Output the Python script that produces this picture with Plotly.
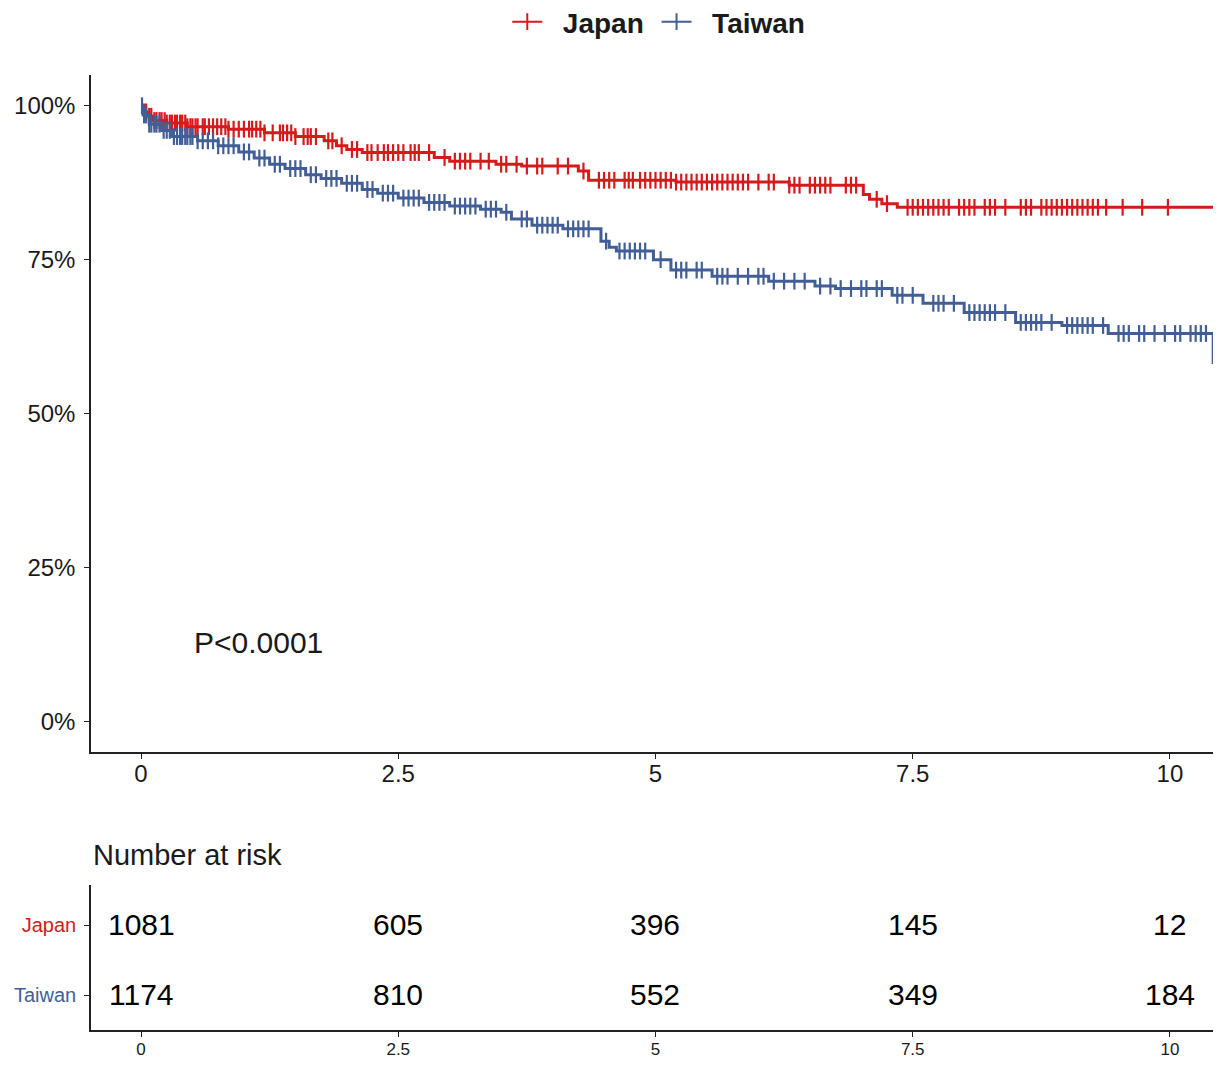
import bisect
import plotly.graph_objects as go

# ---------------- data ----------------
groups = ["Japan", "Taiwan"]

japan_times = [0, 0.02, 0.06, 0.12, 0.25, 0.45, 0.85, 1.2, 1.5, 1.78, 1.9, 2.0, 2.15,
               2.85, 3.0, 3.45, 3.7, 4.25, 4.35, 5.2, 6.3, 7.02, 7.08, 7.2, 7.35]
japan_surv = [100, 99.0, 98.3, 97.6, 97.2, 96.6, 96.2, 95.6, 95.0, 94.3, 93.5, 92.9, 92.4,
              91.6, 91.0, 90.5, 90.2, 89.4, 87.9, 87.6, 87.1, 85.6, 84.8, 84.1, 83.5]
japan_end = 10.5

taiwan_times = [0, 0.02, 0.08, 0.2, 0.3, 0.55, 0.75, 0.95, 1.1, 1.25, 1.4, 1.6, 1.75, 1.95,
                2.15, 2.3, 2.5, 2.75, 3.0, 3.3, 3.5, 3.6, 3.8, 4.1, 4.47, 4.55, 4.62, 4.98,
                5.15, 5.55, 6.1, 6.55, 6.75, 7.3, 7.6, 8.0, 8.5, 8.95, 9.4, 10.42]
taiwan_surv = [100, 98.5, 97.0, 96.0, 95.0, 94.3, 93.5, 92.5, 91.5, 90.5, 89.8, 88.8, 88.2, 87.4,
               86.4, 85.8, 85.0, 84.3, 83.7, 83.2, 82.7, 81.6, 80.6, 80.0, 78.0, 77.0, 76.4, 75.0,
               73.3, 72.3, 71.5, 70.7, 70.3, 69.2, 67.9, 66.4, 64.8, 64.3, 63.0, 58.3]
taiwan_end = 10.48

japan_censor = [0.03, 0.05, 0.08, 0.1, 0.13, 0.15, 0.18, 0.2, 0.23, 0.25, 0.28, 0.3, 0.33,
                0.35, 0.38, 0.4, 0.43, 0.45, 0.48, 0.5, 0.53, 0.55, 0.6, 0.62, 0.66, 0.7,
                0.74, 0.78, 0.82, 0.85, 0.9, 0.95, 1.0, 1.05, 1.08, 1.12, 1.16, 1.2, 1.28,
                1.35, 1.38, 1.42, 1.46, 1.5, 1.58, 1.62, 1.65, 1.7, 1.82, 1.86, 1.95, 2.05,
                2.1, 2.2, 2.24, 2.3, 2.36, 2.4, 2.45, 2.5, 2.55, 2.62, 2.66, 2.7, 2.8, 2.95,
                3.05, 3.1, 3.15, 3.2, 3.3, 3.38, 3.5, 3.55, 3.65, 3.75, 3.85, 3.9, 4.05, 4.15,
                4.3, 4.45, 4.5, 4.55, 4.6, 4.7, 4.74, 4.78, 4.85, 4.9, 4.95, 5.0, 5.05, 5.1,
                5.15, 5.2, 5.25, 5.3, 5.35, 5.4, 5.45, 5.5, 5.55, 5.6, 5.65, 5.7, 5.75, 5.8,
                5.85, 5.9, 6.0, 6.1, 6.15, 6.3, 6.35, 6.4, 6.5, 6.55, 6.6, 6.65, 6.7, 6.85,
                6.9, 6.95, 7.15, 7.25, 7.45, 7.5, 7.55, 7.6, 7.65, 7.7, 7.75, 7.8, 7.85,
                7.95, 8.0, 8.05, 8.1, 8.2, 8.25, 8.3, 8.4, 8.55, 8.6, 8.65, 8.75, 8.8, 8.85,
                8.9, 8.95, 9.0, 9.05, 9.1, 9.15, 9.2, 9.25, 9.3, 9.38, 9.54, 9.73, 9.98]

taiwan_censor = [0.01, 0.03, 0.05, 0.08, 0.1, 0.13, 0.15, 0.18, 0.22, 0.25, 0.28, 0.32, 0.35,
                 0.38, 0.4, 0.43, 0.45, 0.48, 0.5, 0.55, 0.6, 0.65, 0.7, 0.75, 0.8, 0.85, 0.9,
                 1.0, 1.05, 1.15, 1.2, 1.3, 1.35, 1.45, 1.5, 1.55, 1.65, 1.7, 1.8, 1.85, 1.9,
                 2.0, 2.05, 2.1, 2.2, 2.25, 2.35, 2.4, 2.45, 2.55, 2.6, 2.65, 2.7, 2.8, 2.85,
                 2.9, 2.95, 3.05, 3.1, 3.15, 3.2, 3.25, 3.35, 3.4, 3.45, 3.55, 3.7, 3.75, 3.85,
                 3.9, 3.95, 4.0, 4.05, 4.15, 4.2, 4.25, 4.3, 4.35, 4.52, 4.65, 4.7, 4.75, 4.8,
                 4.85, 4.9, 5.05, 5.2, 5.25, 5.3, 5.4, 5.45, 5.6, 5.65, 5.7, 5.8, 5.9, 6.0,
                 6.05, 6.15, 6.25, 6.35, 6.45, 6.6, 6.7, 6.8, 6.9, 7.0, 7.05, 7.15, 7.2, 7.35,
                 7.4, 7.5, 7.7, 7.75, 7.8, 7.9, 8.05, 8.1, 8.15, 8.2, 8.25, 8.3, 8.4, 8.55,
                 8.6, 8.65, 8.7, 8.75, 8.85, 9.0, 9.05, 9.1, 9.15, 9.2, 9.25, 9.35, 9.5, 9.55,
                 9.6, 9.7, 9.75, 9.85, 9.95, 10.05, 10.1, 10.2, 10.25, 10.3, 10.35, 10.46]

risk_times = [0, 2.5, 5, 7.5, 10]
risk_japan = [1081, 605, 396, 145, 12]
risk_taiwan = [1174, 810, 552, 349, 184]

x_ticks = [0, 2.5, 5, 7.5, 10]
x_ticktext = ["0", "2.5", "5", "7.5", "10"]
y_ticks = [0, 25, 50, 75, 100]
y_ticktext = ["0%", "25%", "50%", "75%", "100%"]
p_text = "P<0.0001"

# ---------------- style ----------------
RED = "#D7191C"
BLUE = "#425E96"
AXIS = "#222222"
FONT = "Liberation Sans, Arial, sans-serif"
NB = "\u00a0"


def surv_at(t, times, surv):
    i = bisect.bisect_right(times, t) - 1
    return surv[max(i, 0)]


fig = go.Figure()

curves = [
    ("Japan", japan_times, japan_surv, japan_end, japan_censor, RED),
    ("Taiwan", taiwan_times, taiwan_surv, taiwan_end, taiwan_censor, BLUE),
]

for name, times, surv, t_end, censor, col in curves:
    xs = list(times) + [t_end]
    ys = list(surv) + [surv[-1]]
    fig.add_trace(go.Scatter(x=xs, y=ys, mode="lines", line=dict(color=col, width=3, shape="hv"),
                             showlegend=False, xaxis="x", yaxis="y", hoverinfo="skip"))
    cy = [surv_at(t, times, surv) for t in censor]
    fig.add_trace(go.Scatter(x=censor, y=cy, mode="markers",
                             marker=dict(symbol="line-ns-open", size=12, color=col,
                                         line=dict(color=col, width=2.2)),
                             showlegend=False, xaxis="x", yaxis="y", hoverinfo="skip"))
    # legend entry
    fig.add_trace(go.Scatter(x=[None], y=[None], mode="lines+markers",
                             name=f"{NB}{NB}<b>{name}</b>{NB}",
                             line=dict(color=col, width=2),
                             marker=dict(symbol="line-ns-open", size=12, color=col,
                                         line=dict(color=col, width=2)),
                             xaxis="x", yaxis="y"))

# risk table (numbers placed on the table's own axes)
risk_annotations = []
for row_y, values in ((1, risk_japan), (0, risk_taiwan)):
    for t, v in zip(risk_times, values):
        risk_annotations.append(dict(text=str(v), x=t, y=row_y, xref="x2", yref="y2",
                                     xanchor="center", yanchor="middle", yshift=1,
                                     showarrow=False,
                                     font=dict(size=30, color="black", family=FONT)))

xr = [-0.486, 10.496]
common_axis = dict(showline=True, linecolor=AXIS, linewidth=1.5, ticks="outside", ticklen=5,
                   tickwidth=1.3, tickcolor=AXIS, showgrid=False, zeroline=False,
                   mirror=False)

# the page body adds an 8px margin; margins compensate for it
fig.update_layout(
    width=1221, height=1054,
    margin=dict(l=83, r=8, t=67, b=32, autoexpand=False),
    paper_bgcolor="white", plot_bgcolor="white",
    font=dict(family=FONT, color="#1a1a1a"),
    xaxis=dict(domain=[0, 1], range=xr, anchor="y", tickvals=x_ticks, ticktext=x_ticktext,
               tickfont=dict(size=24, color="#1a1a1a"), ticklabelstandoff=-6, **common_axis),
    yaxis=dict(domain=[0.2911, 1], range=[-5, 105], anchor="x", tickvals=y_ticks,
               ticktext=y_ticktext, tickfont=dict(size=24, color="#1a1a1a"),
               ticklabelstandoff=4, **common_axis),
    xaxis2=dict(domain=[0, 1], range=xr, anchor="y2", tickvals=x_ticks, ticktext=x_ticktext,
                tickfont=dict(size=17, color="#1a1a1a"), ticklabelstandoff=-2, **common_axis),
    yaxis2=dict(domain=[0, 0.1518], range=[-0.5, 1.571], anchor="x2", tickvals=[0, 1],
                ticktext=[f'<span style="color:{BLUE}">Taiwan</span>',
                          f'<span style="color:{RED}">Japan</span>'],
                tickfont=dict(size=20), ticklabelstandoff=4, **common_axis),
    legend=dict(orientation="h", x=0.506, xanchor="center", y=1.0555, yanchor="middle",
                font=dict(size=28, color="#1a1a1a", family=FONT), bgcolor="rgba(0,0,0,0)",
                itemwidth=30, tracegroupgap=0),
    annotations=[
        dict(text=p_text, x=0.5, y=12.8, xref="x", yref="y", xanchor="left", yanchor="middle",
             showarrow=False, font=dict(size=30, color="#1a1a1a", family=FONT)),
        dict(text="Number at risk", x=0, y=0.1832, xref="paper", yref="paper",
             xanchor="left", yanchor="middle", showarrow=False,
             font=dict(size=29, color="#1a1a1a", family=FONT)),
    ] + risk_annotations,
)

fig.write_html("out.html")
